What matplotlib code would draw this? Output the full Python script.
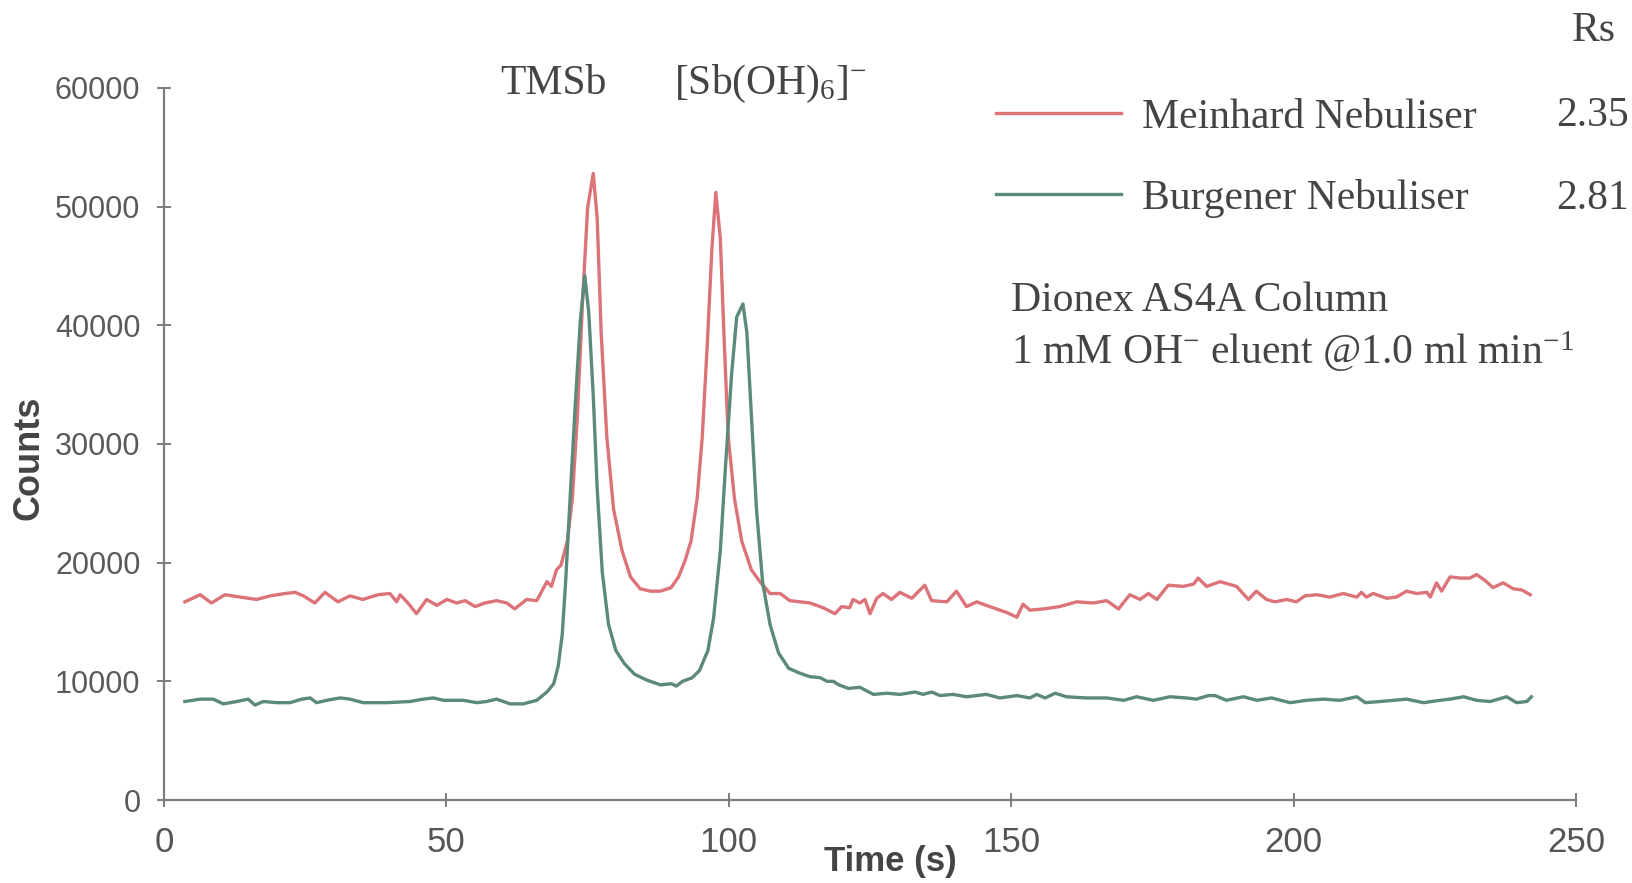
import matplotlib
matplotlib.use("Agg")
import matplotlib.pyplot as plt
import numpy as np

### DATA
meinhard_t = [3.7, 6.4, 8.4, 10.8, 13.5, 16.4, 18.8, 21.4, 23.2, 24.7, 26.7, 28.5, 30.8, 32.9,
              35.2, 37.9, 40.0, 41.2, 41.8, 43.2, 44.7, 46.5, 48.3, 50.1, 51.8, 53.3, 55.1, 56.8,
              58.9, 60.7, 62.1, 64.2, 66.0, 67.8, 68.6, 69.5,
              70.3, 71.4, 72.3, 73.2, 74.1, 75.0, 76.0, 76.7, 77.4, 78.4, 79.6, 81.1, 82.6, 84.3,
              86.1, 87.9, 89.8, 91.1, 92.2, 93.3, 94.4, 95.3, 96.2, 97.0, 97.7, 98.5, 99.2, 99.9,
              101.0, 102.3, 104.0, 105.5, 107.3, 109.1, 110.8, 114.4, 116.7, 118.8, 120.0, 121.4,
              122.0, 123.2, 124.1, 125.0, 126.2, 127.3, 128.8, 130.3, 132.4, 134.7, 135.9, 138.6,
              140.3, 142.1, 143.9, 146.2, 149.2, 151.0, 152.1, 153.3, 155.7, 158.6, 161.6, 164.5,
              166.9, 169.0, 171.0, 172.8, 174.3, 175.8, 177.8, 180.5, 182.3, 183.1, 184.6, 187.0,
              189.9, 192.0, 193.4, 195.2, 196.7, 198.8, 200.5, 202.0, 204.1, 206.4, 208.8, 211.2,
              212.0, 212.9, 214.1, 216.5, 218.2, 220.0, 221.8, 223.6, 224.2, 225.3, 226.2, 227.7,
              229.5, 231.2, 232.4, 233.9, 235.3, 237.1, 238.9, 240.4, 241.9]
meinhard_counts = [16700, 17300, 16600, 17300, 17100, 16900, 17200, 17400, 17500, 17200, 16600, 17500,
                   16700, 17200, 16900, 17300, 17400, 16700, 17300, 16600, 15700, 16900, 16400, 16900,
                   16600, 16800, 16300, 16600, 16800, 16600, 16100, 16900, 16800, 18400, 18000, 19400,
                   19800, 21800, 25400, 32400, 42000, 49900, 52800, 49000, 39400, 30600, 24500, 21000,
                   18800, 17800, 17600, 17600, 17900, 18800, 20100, 21800, 25400, 30600, 38500, 46400,
                   51200, 47300, 38500, 30600, 25400, 21800, 19400, 18400, 17400, 17400, 16800, 16600,
                   16200, 15700, 16300, 16200, 16900, 16600, 16900, 15700, 17000, 17400, 16900, 17500,
                   17000, 18100, 16800, 16700, 17600, 16300, 16700, 16300, 15800, 15400, 16500, 16000,
                   16100, 16300, 16700, 16600, 16800, 16100, 17300, 16900, 17400, 16900, 18100, 18000,
                   18200, 18700, 18000, 18400, 18000, 16900, 17600, 16900, 16700, 16900, 16700, 17200,
                   17300, 17100, 17400, 17100, 17500, 17100, 17400, 17000, 17100, 17600, 17400, 17500,
                   17100, 18300, 17600, 18800, 18700, 18700, 19000, 18500, 17900, 18300, 17800, 17700,
                   17300]

burgener_t = [3.7, 6.4, 8.7, 10.5, 12.9, 14.9, 16.1, 17.6, 20.0, 22.3, 24.4, 25.9, 27.0, 28.8,
              31.2, 32.9, 35.3, 39.4, 43.6, 45.9, 47.7, 49.5, 51.5, 53.0, 55.4, 57.1, 58.9, 61.3,
              63.6, 66.0, 67.8, 69.0, 69.8, 70.5, 71.1, 71.9, 72.8, 73.7, 74.5, 75.2, 76.0, 76.7,
              77.6, 78.7, 80.0, 81.5, 83.3, 85.5, 87.9, 89.8, 90.7, 91.8, 93.5, 94.8, 96.3, 97.3,
              98.5, 99.4, 100.5, 101.4, 102.5, 103.2, 104.0, 104.9, 106.0, 107.3, 108.8, 110.6,
              112.5, 114.3, 116.2, 117.4, 118.5, 119.5, 121.2, 123.2, 125.6, 128.0, 130.3, 133.0,
              134.4, 135.9, 137.4, 139.7, 142.1, 145.6, 148.0, 151.0, 153.3, 154.5, 156.0, 157.8,
              159.8, 163.3, 166.9, 169.9, 172.2, 175.2, 178.1, 181.0, 182.8, 184.9, 186.1, 188.1,
              191.1, 193.5, 196.1, 199.4, 202.3, 205.3, 208.2, 211.2, 212.7, 215.3, 217.7, 220.0,
              223.0, 225.9, 227.7, 230.1, 232.4, 234.8, 237.7, 239.5, 241.3, 242.1]
burgener_counts = [8300, 8500, 8500, 8100, 8300, 8500, 8000, 8300, 8200, 8200, 8500, 8600, 8200, 8400,
                   8600, 8500, 8200, 8200, 8300, 8500, 8600, 8400, 8400, 8400, 8200, 8300, 8500, 8100,
                   8100, 8400, 9100, 9800, 11300, 13900, 18300, 25400, 33200, 40300, 44200, 41100,
                   34100, 26200, 19200, 14800, 12600, 11500, 10600, 10100, 9700, 9800, 9600, 10000,
                   10300, 10900, 12600, 15300, 21000, 28000, 35900, 40700, 41800, 39400, 32400, 24500,
                   18300, 14800, 12400, 11100, 10700, 10400, 10300, 10000, 10000, 9700, 9400, 9500,
                   8900, 9000, 8900, 9100, 8900, 9100, 8800, 8900, 8700, 8900, 8600, 8800, 8600, 8900,
                   8600, 9000, 8700, 8600, 8600, 8400, 8700, 8400, 8700, 8600, 8500, 8800, 8800, 8400,
                   8700, 8400, 8600, 8200, 8400, 8500, 8400, 8700, 8200, 8300, 8400, 8500, 8200, 8400,
                   8500, 8700, 8400, 8300, 8700, 8200, 8300, 8700]

series_labels = ['Meinhard Nebuliser', 'Burgener Nebuliser']
rs_values = ['2.35', '2.81']
x_ticks = [0, 50, 100, 150, 200, 250]
y_ticks = [0, 10000, 20000, 30000, 40000, 50000, 60000]

### STYLE
plt.rcParams['font.family'] = ['Liberation Sans', 'DejaVu Sans']
plt.rcParams['mathtext.fontset'] = 'custom'
plt.rcParams['mathtext.rm'] = 'Liberation Serif'
plt.rcParams['mathtext.it'] = 'Liberation Serif:italic'
plt.rcParams['mathtext.bf'] = 'Liberation Serif:bold'

W, H = 1632, 883
red = '#dc7378'
green = '#5c8a78'
axis_col = '#7d7d7d'
text_col = '#444444'
serif = ['Liberation Serif', 'DejaVu Serif']

def fx(px):
    return px / W

def fy(py):
    return 1 - py / H

fig = plt.figure(figsize=(W / 100, H / 100), dpi=100)
ax = fig.add_axes([fx(164), fy(800), fx(1576) - fx(164), fy(88) - fy(800)])

ax.plot(meinhard_t, meinhard_counts, color=red, lw=2.4, label=series_labels[0])
ax.plot(burgener_t, burgener_counts, color=green, lw=2.4, label=series_labels[1])

ax.set_xlim(0, 250)
ax.set_ylim(0, 60000)
ax.set_xticks(x_ticks)
ax.set_yticks(y_ticks)
ax.set_xticklabels([str(v) for v in x_ticks])
ax.set_yticklabels([str(v) for v in y_ticks])

for s in ['top', 'right']:
    ax.spines[s].set_visible(False)
for s in ['left', 'bottom']:
    ax.spines[s].set_color(axis_col)
    ax.spines[s].set_linewidth(1.6)

ax.tick_params(axis='both', direction='inout', length=10, width=1.4, color=axis_col)
ax.tick_params(axis='y', labelsize=22, labelcolor='#5a5a5a', pad=12)
ax.tick_params(axis='x', labelsize=25, labelcolor='#555555', pad=14)

ax.set_xlabel('Time (s)', fontsize=25, fontweight='bold', color=text_col)
ax.xaxis.set_label_coords((890 - 164) / (1576 - 164), (800 - 862) / 712)
ax.xaxis.label.set_va('center')
ax.set_ylabel('Counts', fontsize=26, fontweight='bold', color=text_col)
ax.yaxis.set_label_coords((29 - 164) / (1576 - 164), (800 - 458) / 712)
ax.yaxis.label.set_va('center')

### LEGEND AND ANNOTATIONS
leg = ax.legend(loc='center left', bbox_to_anchor=(fx(996), fy(158)),
                bbox_transform=fig.transFigure, frameon=False,
                prop={'family': serif, 'size': 30}, handlelength=3.0,
                handletextpad=0.5, labelspacing=1.0, borderpad=0, borderaxespad=0)
for t in leg.get_texts():
    t.set_color(text_col)

fig.text(fx(1572), fy(31), 'Rs', family=serif, fontsize=30, color=text_col, va='center', ha='left')
for val, ypx in zip(rs_values, [116, 199]):
    fig.text(fx(1556), fy(ypx), val, family=serif, fontsize=30, color=text_col, va='center', ha='left')

fig.text(fx(553), fy(84), 'TMSb', family=serif, fontsize=30, color=text_col, va='center', ha='center')
fig.text(fx(674), fy(84), r'[Sb(OH)$_6$]$^{-}$', family=serif, fontsize=30, color=text_col,
         va='center', ha='left')

fig.text(fx(1011), fy(301), 'Dionex AS4A Column', family=serif, fontsize=30, color=text_col,
         va='center', ha='left')
fig.text(fx(1011), fy(352), r'1 mM OH$^{-}$ eluent @1.0 ml min$^{-1}$', family=serif, fontsize=30,
         color=text_col, va='center', ha='left')

fig.savefig('out.png', dpi=100, facecolor='white')
